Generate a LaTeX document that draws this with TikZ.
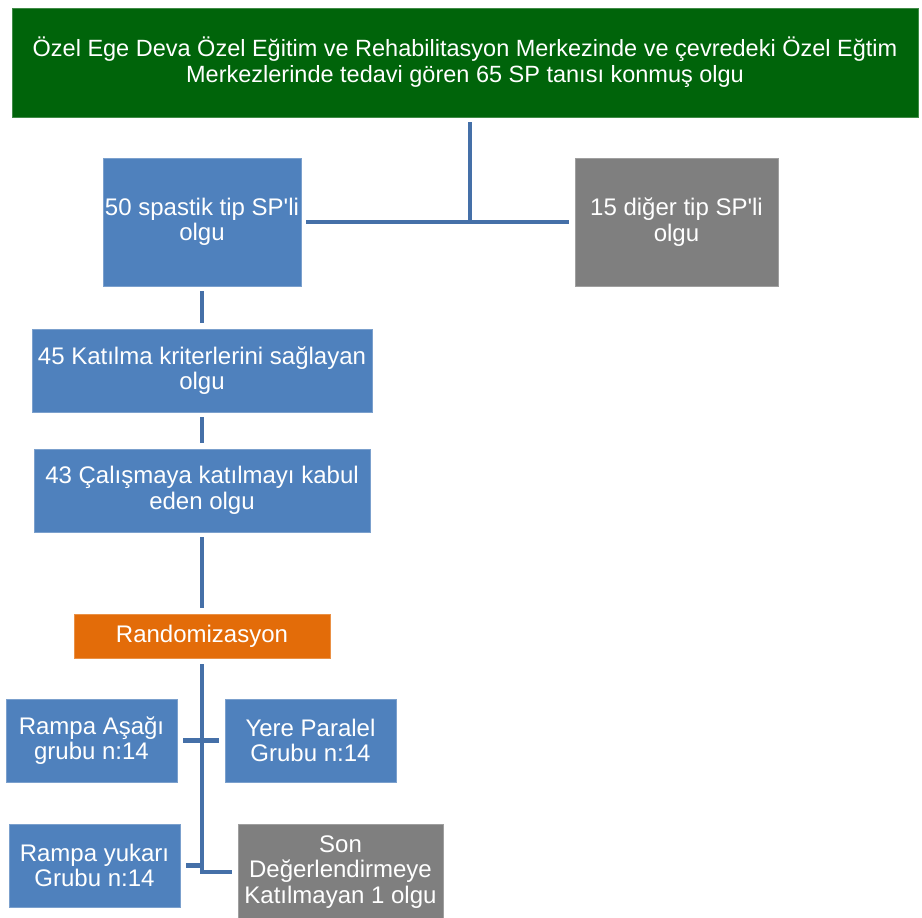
\documentclass[tikz,border=0pt]{standalone}
\usepackage{fontspec}
\setmainfont{Liberation Sans}[Ligatures=TeXOff]
\usepackage{xcolor}
\usetikzlibrary{calc}
\definecolor{kutuMavi}{HTML}{4F81BD}
\definecolor{kutuGri}{HTML}{7F7F7F}
\definecolor{kutuYesil}{HTML}{00640A}
\definecolor{kutuTuruncu}{HTML}{E36C09}
\definecolor{hatMavi}{HTML}{4570A8}
\tikzset{
  kutu/.style={fill=#1, draw=#1!75!white, line width=0.8pt, text=white,
    align=center, inner sep=0pt, font=\fontsize{24}{25.5}\selectfont},
  hat/.style={draw=hatMavi, line width=4.5pt}
}

\begin{document}
\begin{tikzpicture}[x=1pt,y=-1pt]
  \useasboundingbox (0,0) rectangle (922,918);
  % ust kutu
  \node[kutu=kutuYesil, minimum width=906pt, minimum height=109pt, font=\fontsize{23.5}{26}\selectfont] (ana) at (465,62.5)
    {Özel Ege Deva Özel Eğitim ve Rehabilitasyon Merkezinde ve çevredeki Özel Eğtim\\Merkezlerinde tedavi gören 65 SP tanısı konmuş olgu};
  \node[kutu=kutuMavi, minimum width=198pt, minimum height=128pt] (spastik) at (202,222) {50 spastik tip SP'li\\olgu};
  \node[kutu=kutuGri, minimum width=203pt, minimum height=128pt] (diger) at (676.5,222) {15 diğer tip SP'li\\olgu};
  \node[kutu=kutuMavi, minimum width=340pt, minimum height=83pt] (kriter) at (202,370.5) {45 Katılma kriterlerini sağlayan\\olgu};
  \node[kutu=kutuMavi, minimum width=336pt, minimum height=83pt] (kabul) at (202,490.5) {43 Çalışmaya katılmayı kabul\\eden olgu};
  \node[kutu=kutuTuruncu, minimum width=256pt, minimum height=44pt] (random) at (202,636) {Randomizasyon};
  % gruplar
  \node[kutu=kutuMavi, minimum width=171pt, minimum height=83pt] (asagi) at (91.5,740.5) {Rampa Aşağı\\grubu n:14};
  \node[kutu=kutuMavi, minimum width=171pt, minimum height=83pt] (paralel) at (310.5,740.5) {Yere Paralel\\Grubu n:14};
  \node[kutu=kutuMavi, minimum width=171pt, minimum height=83pt] (yukari) at (94.5,865.5) {Rampa yukarı\\Grubu n:14};
  \node[kutu=kutuGri, minimum width=205pt, minimum height=95pt] (son) at (340.5,872) {Son\\Değerlendirmeye\\Katılmayan 1 olgu};

  % baglantilar
  \coordinate (tepe) at (470,122);
  \coordinate (kavsak) at (470,222);
  \draw[hat] (tepe) -- (kavsak);
  \draw[hat] ([xshift=5pt]spastik.east) -- ([xshift=-6pt]diger.west);
  \draw[hat] ([yshift=-5pt]spastik.south) -- ([yshift=6pt]kriter.north);
  \draw[hat] ([yshift=-5pt]kriter.south) -- ([yshift=6pt]kabul.north);
  \draw[hat] ([yshift=-5pt]kabul.south) -- ([yshift=6pt]random.north);
  \draw[hat] ([yshift=-6pt]random.south) |- ([xshift=-6pt]son.west);
  \draw[hat] ([xshift=6pt]asagi.east) -- ([xshift=-6pt]paralel.west);
  \draw[hat] ([xshift=6pt]yukari.east) -- (yukari.east -| random.south);
\end{tikzpicture}
\end{document}
